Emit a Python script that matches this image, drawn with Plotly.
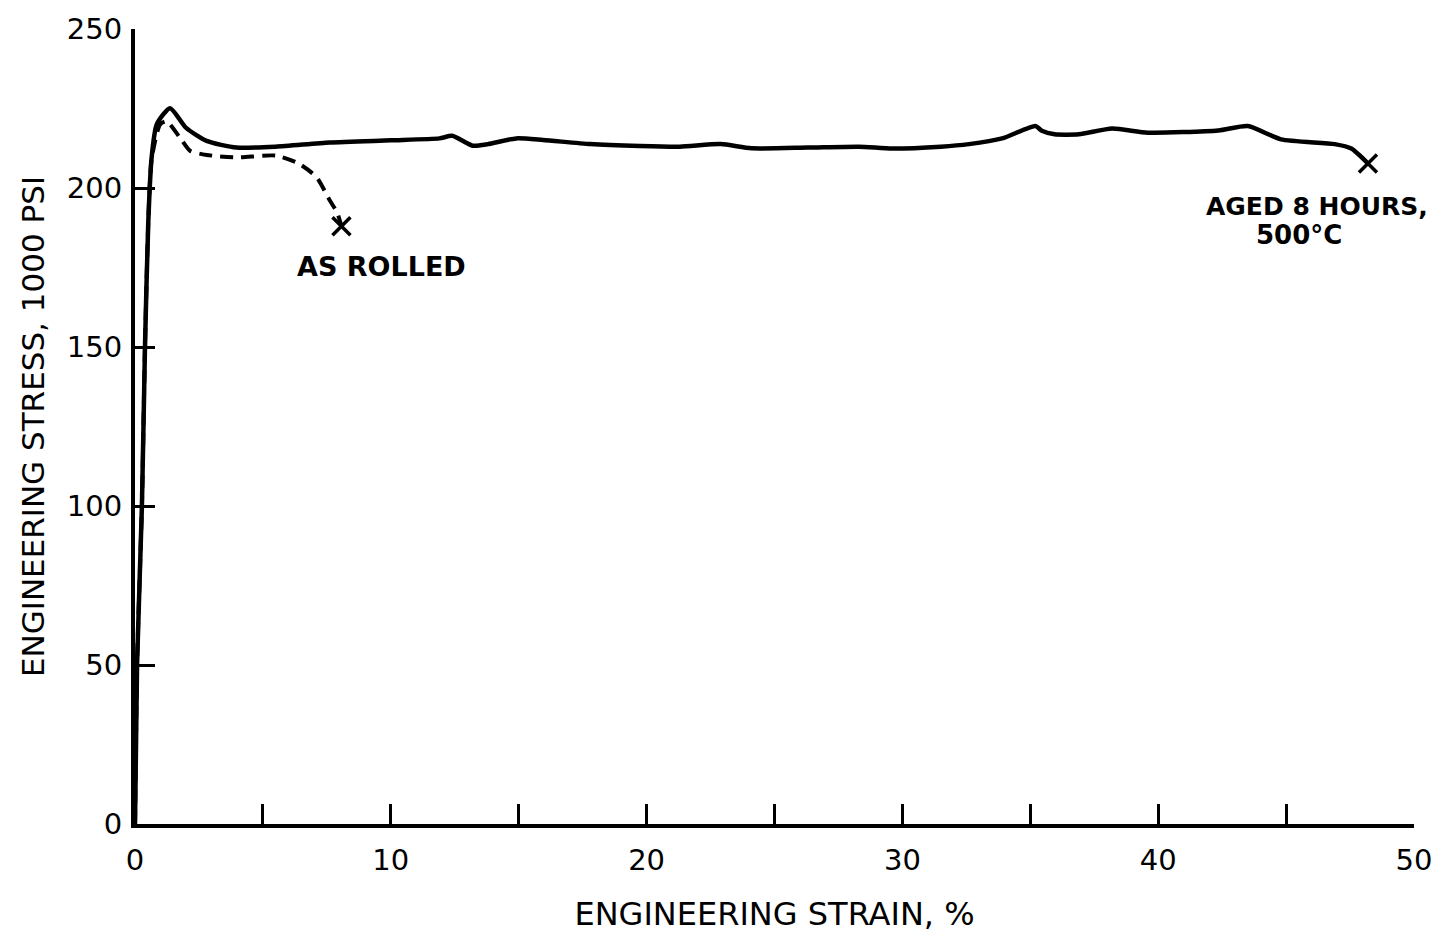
import plotly.graph_objects as go

# Aged 8 hours, 500 C (solid)
aged_strain = [0, 0.08, 0.27, 0.39, 0.52, 0.65, 0.85, 1.37, 2.0, 2.8, 3.97, 5.5, 7.6, 10.0,
               11.9, 12.4, 13.2, 13.8, 14.9, 15.95, 17.8, 19.75, 21.3, 22.9, 24.1, 26.3,
               28.3, 29.6, 31.5, 32.6, 33.9, 35.2, 35.45, 35.95, 36.9, 38.2, 39.6, 42.35,
               43.5, 44.8, 46.9, 47.55, 48.2]
aged_stress = [0, 50, 100, 150, 189.5, 209.6, 220, 225.1, 218.9, 214.8, 212.7, 213, 214.3, 215,
               215.6, 216.4, 213.3, 213.8, 215.6, 215.1, 213.8, 213.2, 213.0, 213.8, 212.5, 212.7,
               213.0, 212.4, 213.0, 213.8, 215.6, 219.5, 218.0, 216.9, 216.9, 218.7, 217.4, 218.1,
               219.5, 215.3, 213.8, 212.4, 207.7]

# As rolled (dashed)
rolled_strain = [0, 0.08, 0.27, 0.39, 0.52, 0.65, 0.98, 1.24, 1.76, 2.15, 2.8, 3.97, 5.5,
                 6.4, 7.1, 7.6, 7.9, 8.07]
rolled_stress = [0, 50, 100, 150, 189.5, 209, 220, 221, 215.8, 211.7, 210.4, 209.6, 210.2,
                 207.7, 203.4, 196.3, 192.3, 188]

x_ticks = [0, 10, 20, 30, 40, 50]
y_ticks = [0, 50, 100, 150, 200, 250]

FONT = "DejaVu Sans"

fig = go.Figure()
fig.add_trace(go.Scatter(x=rolled_strain, y=rolled_stress, mode="lines",
                         line=dict(color="black", width=4, dash="13px,8px", shape="spline", smoothing=0.6),
                         showlegend=False, hoverinfo="skip"))
fig.add_trace(go.Scatter(x=aged_strain, y=aged_stress, mode="lines",
                         line=dict(color="black", width=4.5, shape="spline", smoothing=0.6),
                         showlegend=False, hoverinfo="skip"))
fig.add_trace(go.Scatter(x=[rolled_strain[-1], aged_strain[-1]], y=[rolled_stress[-1], aged_stress[-1]],
                         mode="markers",
                         marker=dict(symbol="x-thin", size=18, line=dict(color="black", width=3.5)),
                         showlegend=False, hoverinfo="skip", cliponaxis=False))

fig.add_annotation(x=9.65, y=175.3, text="AS ROLLED", showarrow=False,
                   font=dict(family=FONT, size=27, color="black", weight="bold"))
fig.add_annotation(x=46.2, y=194.1, text="AGED 8 HOURS,", showarrow=False,
                   font=dict(family=FONT, size=25, color="black", weight="bold"))
fig.add_annotation(x=45.5, y=185.2, text="500°C", showarrow=False,
                   font=dict(family=FONT, size=26, color="black", weight="bold"))

fig.update_xaxes(range=[0, 50], tickvals=x_ticks, ticktext=[str(v) for v in x_ticks],
                 ticks="inside", ticklen=20, tickwidth=3, tickcolor="black",
                 minor=dict(dtick=5, tick0=0, ticks="inside", ticklen=20, tickwidth=3, tickcolor="black"),
                 showline=True, linecolor="black", linewidth=4, showgrid=False, zeroline=False,
                 tickfont=dict(family=FONT, size=29, color="black"), ticklabelstandoff=7,
                 title=dict(text="ENGINEERING STRAIN, %", font=dict(family=FONT, size=32, color="black"),
                            standoff=28))
fig.update_yaxes(range=[0, 250], tickvals=y_ticks, ticktext=[str(v) for v in y_ticks],
                 ticks="inside", ticklen=20, tickwidth=3, tickcolor="black",
                 showline=True, linecolor="black", linewidth=4, showgrid=False, zeroline=False,
                 tickfont=dict(family=FONT, size=29, color="black"), ticklabelstandoff=3,
                 title=dict(text="ENGINEERING STRESS, 1000 PSI", font=dict(family=FONT, size=31, color="black"),
                            standoff=14))

fig.update_layout(width=1444, height=939, margin=dict(l=135, r=29, t=26, b=104),
                  paper_bgcolor="white", plot_bgcolor="white")

fig.write_html("out.html")
